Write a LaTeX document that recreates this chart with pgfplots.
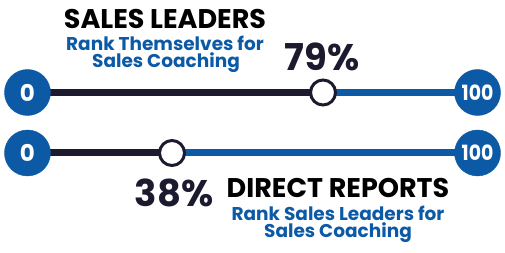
\documentclass[border=0pt]{standalone}
\usepackage{fontspec}
\setmainfont{Poppins}
\usepackage{pgfplots}
\pgfplotsset{compat=1.18}
\definecolor{brandblue}{HTML}{0C5AA6}
\definecolor{navy}{HTML}{1C1A2E}
\begin{document}
\begin{tikzpicture}
\begin{axis}[width=505pt,height=253pt,scale only axis,hide axis,
  xmin=-8.70,xmax=128.41,ymin=0,ymax=253,clip=false]
\path (rel axis cs:0,0) rectangle (rel axis cs:1,1);
% tracks
\addplot[navy,line width=7pt] coordinates {(-1.24,160.5) (79,160.5)};
\addplot[brandblue,line width=7pt] coordinates {(79,160.5) (120.95,160.5)};
\addplot[navy,line width=7pt] coordinates {(-1.24,100) (38,100)};
\addplot[brandblue,line width=7pt] coordinates {(38,100) (120.95,100)};
% end circles
\addplot[only marks,mark=*,mark size=23pt,color=brandblue] coordinates {(-1.24,160.5) (120.95,160.5) (-1.24,100) (120.95,100)};
% value markers
\addplot[only marks,mark=*,mark size=12.5pt,mark options={fill=white,draw=navy,line width=3pt}] coordinates {(79,160.5) (38,100)};
\coordinate (L1) at (axis cs:-1.24,160.5);
\coordinate (R1) at (axis cs:120.95,160.5);
\coordinate (L2) at (axis cs:-1.24,100);
\coordinate (R2) at (axis cs:120.95,100);
\coordinate (V1) at (rel axis cs:0.6376,0.775);
\coordinate (V2) at (rel axis cs:0.3446,0.237);
\coordinate (T1) at (rel axis cs:0.3267,0.925);
\coordinate (T2) at (rel axis cs:0.3267,0.830);
\coordinate (T3) at (rel axis cs:0.3287,0.751);
\coordinate (D1) at (rel axis cs:0.6693,0.257);
\coordinate (D2) at (rel axis cs:0.6693,0.158);
\coordinate (D3) at (rel axis cs:0.6693,0.079);
\end{axis}
% end labels
\node[text=white,font=\fontsize{23}{26}\selectfont\bfseries] at (L1) {0};
\node[text=white,font=\fontsize{21}{24}\selectfont\bfseries,xscale=0.9] at (R1) {100};
\node[text=white,font=\fontsize{23}{26}\selectfont\bfseries] at (L2) {0};
\node[text=white,font=\fontsize{21}{24}\selectfont\bfseries,xscale=0.9] at (R2) {100};
% values
\node[text=navy,font=\fontsize{37}{40}\selectfont\bfseries] at (V1) {79\%};
\node[text=navy,font=\fontsize{37}{40}\selectfont\bfseries] at (V2) {38\%};
% titles
\node[text=black,font=\fontsize{27}{30}\selectfont\bfseries] at (T1) {SALES LEADERS};
\node[text=brandblue,font=\fontsize{18.5}{20}\selectfont\bfseries] at (T2) {Rank Themselves for};
\node[text=brandblue,font=\fontsize{18.5}{20}\selectfont\bfseries] at (T3) {Sales Coaching};
\node[text=black,font=\fontsize{27}{30}\selectfont\bfseries] at (D1) {DIRECT REPORTS};
\node[text=brandblue,font=\fontsize{18.5}{20}\selectfont\bfseries] at (D2) {Rank Sales Leaders for};
\node[text=brandblue,font=\fontsize{18.5}{20}\selectfont\bfseries] at (D3) {Sales Coaching};
\end{tikzpicture}
\end{document}
